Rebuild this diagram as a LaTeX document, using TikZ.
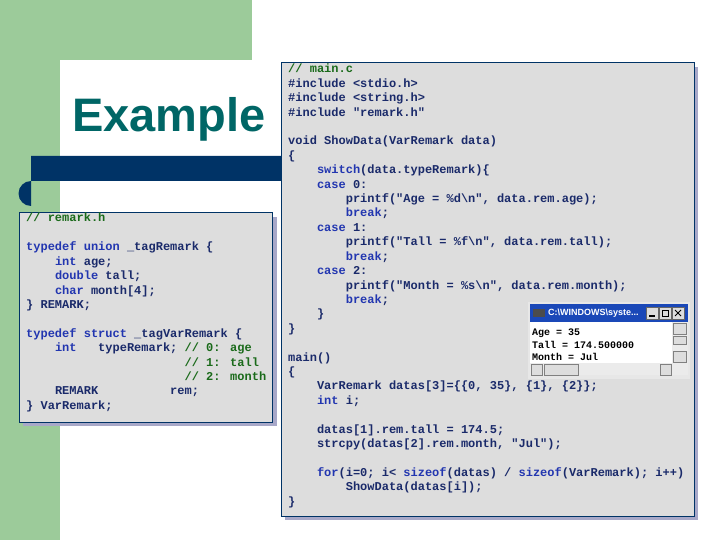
\documentclass[tikz,border=0pt]{standalone}
\usepackage{fontspec}
\setmainfont{Liberation Sans}
\newfontfamily\codefont{Liberation Mono}
\definecolor{slidegreen}{HTML}{9CCB9A}
\definecolor{bar}{HTML}{003366}
\definecolor{teal}{HTML}{006666}
\definecolor{navy}{HTML}{1A2A6A}
\definecolor{kwblue}{HTML}{2236B0}
\definecolor{cmt}{HTML}{1A6A1A}
\definecolor{boxfill}{HTML}{DDDDDD}
\definecolor{shadowc}{HTML}{A8A8C8}
\definecolor{winblue}{HTML}{1A48B8}
\newcommand\kwd[1]{\textcolor{kwblue}{#1}}
\newcommand\cmtx[1]{\textcolor{cmt}{#1}}
\newcommand\mline[3]{\node[code] (m#1) at ({288+7.2*#2},{73+14.4*#1}) {#3};}
\newcommand\rline[3]{\node[code] (r#1) at ({26+7.2*#2},{222+14.4*#1}) {#3};}
\begin{document}
\begin{tikzpicture}[x=1pt,y=-1pt,
  code/.style={anchor=base west,inner sep=0pt,text=navy,font=\codefont\bfseries\fontsize{12}{14}\selectfont},
  cons/.style={anchor=base west,inner sep=0pt,text=black,font=\codefont\bfseries\fontsize{10}{12}\selectfont},
  codebox/.style={fill=boxfill,draw=bar,line width=1pt},
  shadowbox/.style={fill=shadowc}]
\useasboundingbox (0,0) rectangle (720,540);
\fill[white] (0,0) rectangle (720,540);
% background
\fill[slidegreen] (0,0) rectangle (252,60);
\fill[slidegreen] (0,0) rectangle (60,540);
\fill[white] (60,540) -- (60,80) arc[start angle=180,end angle=90,radius=20] -- (252,60) -- (252,540) -- cycle;
\fill[bar] (31,156) -- (300,156) -- (300,181) -- (31,181) arc[start angle=270,end angle=90,radius=12.5] -- cycle;
\node[anchor=base west,inner sep=0pt,text=teal,font=\bfseries\fontsize{47}{50}\selectfont] (title) at (72,132) {Example};
% left box
\fill[shadowbox] (23,217) rectangle (277,426);
\draw[codebox] (19,213) rectangle (272,422);
\rline{0}{0}{\cmtx{// remark.h}}
\rline{2}{0}{\kwd{typedef} \kwd{union} \_tagRemark \{}
\rline{3}{4}{\kwd{int} age;}
\rline{4}{4}{\kwd{double} tall;}
\rline{5}{4}{\kwd{char} month[4];}
\rline{6}{0}{\} REMARK;}
\rline{8}{0}{\kwd{typedef} \kwd{struct} \_tagVarRemark \{}
\rline{9}{4}{\kwd{int}\ \ \ typeRemark; \cmtx{// 0: age}}
\rline{10}{22}{\cmtx{// 1: tall}}
\rline{11}{22}{\cmtx{// 2: month}}
\rline{12}{4}{REMARK\ \ \ \ \ \ \ \ \ \ rem;}
\rline{13}{0}{\} VarRemark;}
% main box
\fill[shadowbox] (285,67) rectangle (698,520);
\draw[codebox] (281,63) rectangle (694,516);
\mline{0}{0}{\cmtx{// main.c}}
\mline{1}{0}{\#include <stdio.h>}
\mline{2}{0}{\#include <string.h>}
\mline{3}{0}{\#include "remark.h"}
\mline{5}{0}{void ShowData(VarRemark data)}
\mline{6}{0}{\{}
\mline{7}{4}{\kwd{switch}(data.typeRemark)\{}
\mline{8}{4}{\kwd{case} 0:}
\mline{9}{8}{printf("Age = \%d\textbackslash n", data.rem.age);}
\mline{10}{8}{\kwd{break};}
\mline{11}{4}{\kwd{case} 1:}
\mline{12}{8}{printf("Tall = \%f\textbackslash n", data.rem.tall);}
\mline{13}{8}{\kwd{break};}
\mline{14}{4}{\kwd{case} 2:}
\mline{15}{8}{printf("Month = \%s\textbackslash n", data.rem.month);}
\mline{16}{8}{\kwd{break};}
\mline{17}{4}{\}}
\mline{18}{0}{\}}
\mline{20}{0}{main()}
\mline{21}{0}{\{}
\mline{22}{4}{VarRemark datas[3]=\{\{0, 35\}, \{1\}, \{2\}\};}
\mline{23}{4}{\kwd{int} i;}
\mline{25}{4}{datas[1].rem.tall = 174.5;}
\mline{26}{4}{strcpy(datas[2].rem.month, "Jul");}
\mline{28}{4}{\kwd{for}(i=0; i< \kwd{sizeof}(datas) / \kwd{sizeof}(VarRemark); i++)}
\mline{29}{8}{ShowData(datas[i]);}
\mline{30}{0}{\}}
% console window
\fill[boxfill!70!white] (528,302) rectangle (690,379);
\fill[winblue] (530,304) rectangle (688,322);
\fill[black!70] (533,309) rectangle (545,317);
\node[anchor=west,inner sep=0pt,text=white,font=\bfseries\fontsize{9}{10}\selectfont] (ctitle) at (548,313) {C:\textbackslash WINDOWS\textbackslash syste...};
\foreach \bx/\nm in {646/b1,659/b2,672/b3}
  \draw[fill=boxfill,draw=black!60] (\bx,307) rectangle ++(12,12);
\draw[line width=1.2pt] (649,316) -- (655,316);
\draw[line width=1pt] (662,310) rectangle (668,316);
\draw[line width=1pt] (675,310) -- (681,316) (681,310) -- (675,316);
\fill[white] (530,322) rectangle (672,363);
\fill[boxfill!60!white] (672,322) rectangle (688,375);
\fill[boxfill!60!white] (530,363) rectangle (688,375);
\draw[fill=boxfill,draw=black!50] (673,323) rectangle (686,334);
\draw[fill=boxfill,draw=black!50] (673,351) rectangle (686,362);
\draw[fill=boxfill,draw=black!50] (673,336) rectangle (686,344);
\draw[fill=boxfill,draw=black!50] (531,364) rectangle (542,375);
\draw[fill=boxfill,draw=black!50] (544,364) rectangle (578,375);
\draw[fill=boxfill,draw=black!50] (660,364) rectangle (671,375);
\node[cons] (c1) at (532,335) {Age = 35};
\node[cons] (c2) at (532,348) {Tall = 174.500000};
\node[cons] (c3) at (532,360) {Month = Jul};
\end{tikzpicture}
\end{document}
